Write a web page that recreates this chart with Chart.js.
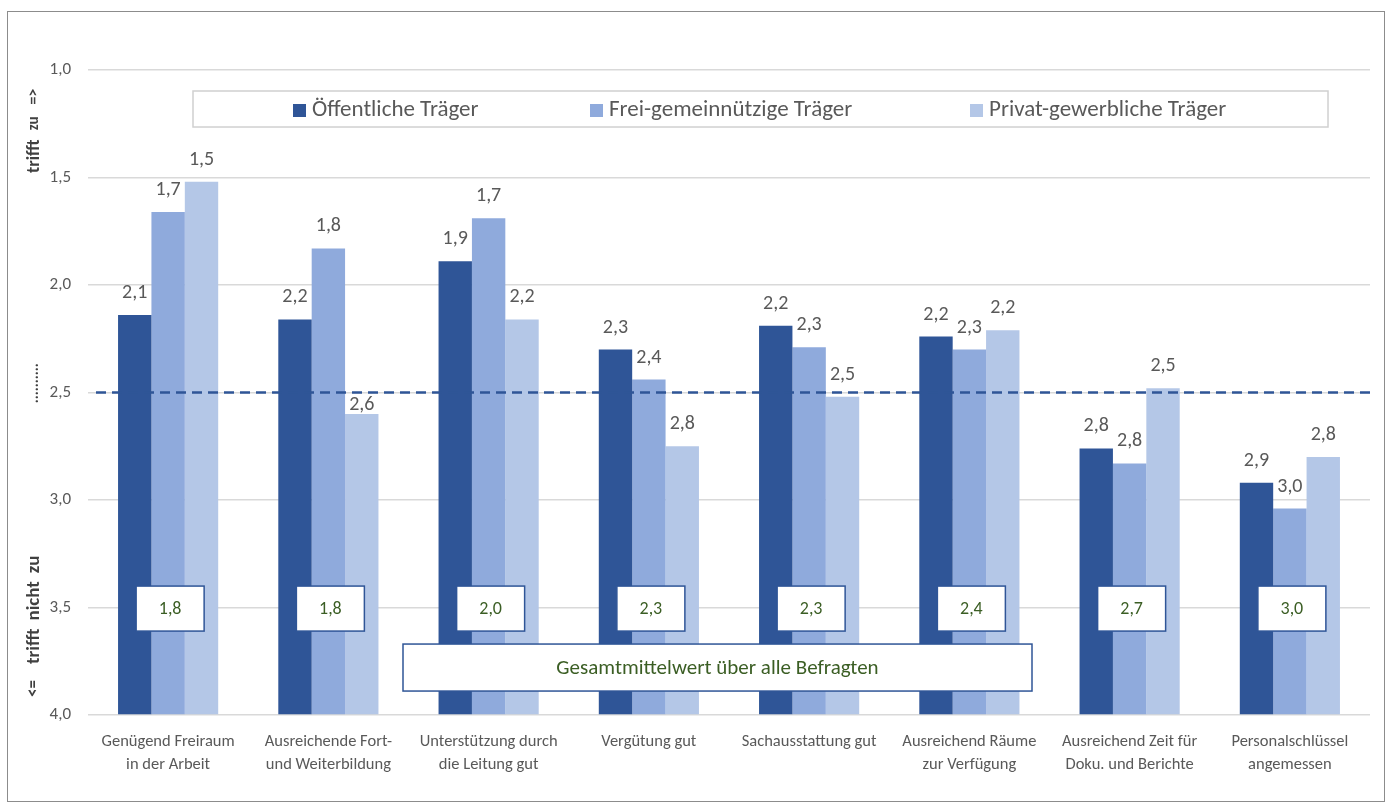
<!DOCTYPE html>
<html>
<head>
<meta charset="utf-8">
<script src="https://cdn.jsdelivr.net/npm/chart.js@4/dist/chart.umd.min.js"></script>
<style>
  html, body { margin: 0; padding: 0; background: #fff; }
  #wrap { position: relative; width: 1387px; height: 803px; }
</style>
</head>
<body>
<div id="wrap"><canvas id="c" width="1387" height="803"></canvas></div>
<script>
const categories = [
  ["Genügend Freiraum", "in der Arbeit"],
  ["Ausreichende Fort-", "und Weiterbildung"],
  ["Unterstützung durch", "die Leitung gut"],
  ["Vergütung gut"],
  ["Sachausstattung gut"],
  ["Ausreichend Räume", "zur Verfügung"],
  ["Ausreichend Zeit für", "Doku. und Berichte"],
  ["Personalschlüssel", "angemessen"]
];
const seriesNames = ["Öffentliche Träger", "Frei-gemeinnützige Träger", "Privat-gewerbliche Träger"];
const oeffentlich = [2.14, 2.16, 1.89, 2.30, 2.19, 2.24, 2.76, 2.92];
const freiGemein  = [1.66, 1.83, 1.69, 2.44, 2.29, 2.30, 2.83, 3.04];
const privat      = [1.52, 2.60, 2.16, 2.75, 2.52, 2.21, 2.48, 2.80];
const gesamtMittel = [1.8, 1.8, 2.0, 2.3, 2.3, 2.4, 2.7, 3.0];
const referenzLinie = 2.5;
const yTicks = [1.0, 1.5, 2.0, 2.5, 3.0, 3.5, 4.0];
const gesamtText = "Gesamtmittelwert über alle Befragten";
const axisTop = ["trifft", "zu", "=>"];
const axisMid = "..........";
const axisBottom = ["<=", "trifft", "nicht", "zu"];

const colors = ["#2F5597", "#8FAADC", "#B4C7E7"];
const FONT = 'Carlito, Calibri, Lato, "Liberation Sans", sans-serif';
const fmt = v => v.toFixed(1).replace(".", ",");

const framePlugin = {
  id: "frame",
  beforeDraw(chart) {
    const ctx = chart.ctx;
    ctx.save();
    ctx.fillStyle = "#fff";
    ctx.fillRect(0, 0, chart.width, chart.height);
    ctx.strokeStyle = "#8c8c8c";
    ctx.lineWidth = 1;
    ctx.strokeRect(7.5, 11.5, chart.width - 10, chart.height - 13);
    ctx.restore();
  }
};

const overlayPlugin = {
  id: "overlay",
  afterDatasetsDraw(chart) {
    const ctx = chart.ctx;
    const xs = chart.scales.x, ys = chart.scales.y;
    const area = chart.chartArea;
    ctx.save();
    // dashed reference line
    const yl = ys.getPixelForValue(referenzLinie);
    ctx.strokeStyle = "#2F5597";
    ctx.lineWidth = 2.5;
    ctx.setLineDash([10, 6]);
    ctx.beginPath();
    ctx.moveTo(area.left + 8, yl);
    ctx.lineTo(chart.width - 12, yl);
    ctx.stroke();
    ctx.setLineDash([]);

    // mean boxes
    ctx.font = "18px " + FONT;
    ctx.textAlign = "center";
    ctx.textBaseline = "middle";
    gesamtMittel.forEach((m, i) => {
      const cx = xs.getPixelForValue(i) + 2;
      const cy = ys.getPixelForValue(3.505);
      const w = 68, h = 45;
      ctx.fillStyle = "#fff";
      ctx.fillRect(cx - w / 2, cy - h / 2, w, h);
      ctx.strokeStyle = "#2F5597";
      ctx.lineWidth = 1.5;
      ctx.strokeRect(cx - w / 2, cy - h / 2, w, h);
      ctx.fillStyle = "#3B5E24";
      ctx.fillText(fmt(m), cx, cy + 1);
    });

    // big label box
    const bl = area.left + 315, br = area.left + 944;
    const bt = ys.getPixelForValue(3.67), bb = bt + 47;
    ctx.fillStyle = "#fff";
    ctx.fillRect(bl, bt, br - bl, bb - bt);
    ctx.strokeStyle = "#2F5597";
    ctx.lineWidth = 1.5;
    ctx.strokeRect(bl, bt, br - bl, bb - bt);
    ctx.fillStyle = "#3B5E24";
    ctx.font = "21px " + FONT;
    ctx.fillText(gesamtText, (bl + br) / 2, (bt + bb) / 2 + 1);

    // data labels
    ctx.font = "20px " + FONT;
    ctx.fillStyle = "#595959";
    chart.data.datasets.forEach((ds, di) => {
      const meta = chart.getDatasetMeta(di);
      meta.data.forEach((bar, i) => {
        const off = (di === 2 && i === 1) ? 9 : 22;
        ctx.fillText(fmt(ds.data[i]), bar.x, bar.y - off);
      });
    });

    // legend
    const lx0 = 193, lx1 = 1328, ly0 = 91, ly1 = 127;
    ctx.fillStyle = "#fff";
    ctx.fillRect(lx0, ly0, lx1 - lx0, ly1 - ly0);
    ctx.strokeStyle = "#d0d0d0";
    ctx.lineWidth = 1.5;
    ctx.strokeRect(lx0, ly0, lx1 - lx0, ly1 - ly0);
    const itemX = [293, 590, 970];
    ctx.font = "23px " + FONT;
    ctx.textAlign = "left";
    chart.data.datasets.forEach((ds, di) => {
      const x = itemX[di];
      const cy = (ly0 + ly1) / 2;
      ctx.fillStyle = ds.backgroundColor;
      ctx.fillRect(x, cy - 5, 13, 13);
      ctx.fillStyle = "#595959";
      ctx.fillText(ds.label, x + 19, cy + 1);
    });

    // left axis titles (rotated, reading bottom to top)
    ctx.fillStyle = "#404040";
    ctx.textBaseline = "middle";
    const tx = 34;
    const drawRun = (parts, fonts, yStart, gaps) => {
      ctx.save();
      ctx.translate(tx, yStart);
      ctx.rotate(-Math.PI / 2);
      ctx.textAlign = "left";
      let pos = 0;
      parts.forEach((p, k) => {
        ctx.font = fonts[k];
        ctx.fillText(p, pos, 0);
        pos += ctx.measureText(p).width + (gaps[k] || 0);
      });
      ctx.restore();
    };
    drawRun(axisTop, ["bold 18px " + FONT, "bold 15px " + FONT, "bold 16px " + FONT], 173, [9, 12]);
    drawRun([axisMid], ["bold 15px " + FONT], ys.getPixelForValue(2.55), []);
    const bf = "bold 19px " + FONT;
    drawRun(axisBottom, ["bold 17px " + FONT, bf, bf, bf], 697, [16, 8, 8]);
    ctx.restore();
  }
};

const datasets = [oeffentlich, freiGemein, privat].map((d, i) => ({
  label: seriesNames[i],
  data: d,
  backgroundColor: colors[i],
  borderWidth: 0,
  base: 4,
  categoryPercentage: 0.625,
  barPercentage: 1.0
}));

new Chart(document.getElementById("c"), {
  type: "bar",
  data: { labels: categories, datasets },
  plugins: [framePlugin, overlayPlugin],
  options: {
    responsive: false,
    animation: false,
    devicePixelRatio: 1,
    layout: { padding: { top: 70, right: 17, left: 0, bottom: 0 } },
    plugins: { legend: { display: false }, tooltip: { enabled: false } },
    scales: {
      x: {
        grid: { display: false, drawTicks: false },
        border: { display: false },
        ticks: {
          color: "#595959",
          font: { family: FONT, size: 16.5, lineHeight: 1.4 },
          padding: 15,
          maxRotation: 0,
          autoSkip: false
        },
        afterFit: s => { s.height = 88; }
      },
      y: {
        reverse: true,
        min: 1,
        max: 4,
        afterBuildTicks: s => { s.ticks = yTicks.map(v => ({ value: v })); },
        grid: { color: "#d9d9d9", lineWidth: 1.5, drawTicks: false },
        border: { display: false },
        ticks: {
          color: "#595959",
          font: { family: FONT, size: 17 },
          padding: 17,
          callback: v => fmt(v)
        },
        afterFit: s => { s.width = 88; }
      }
    }
  }
});
</script>
</body>
</html>
